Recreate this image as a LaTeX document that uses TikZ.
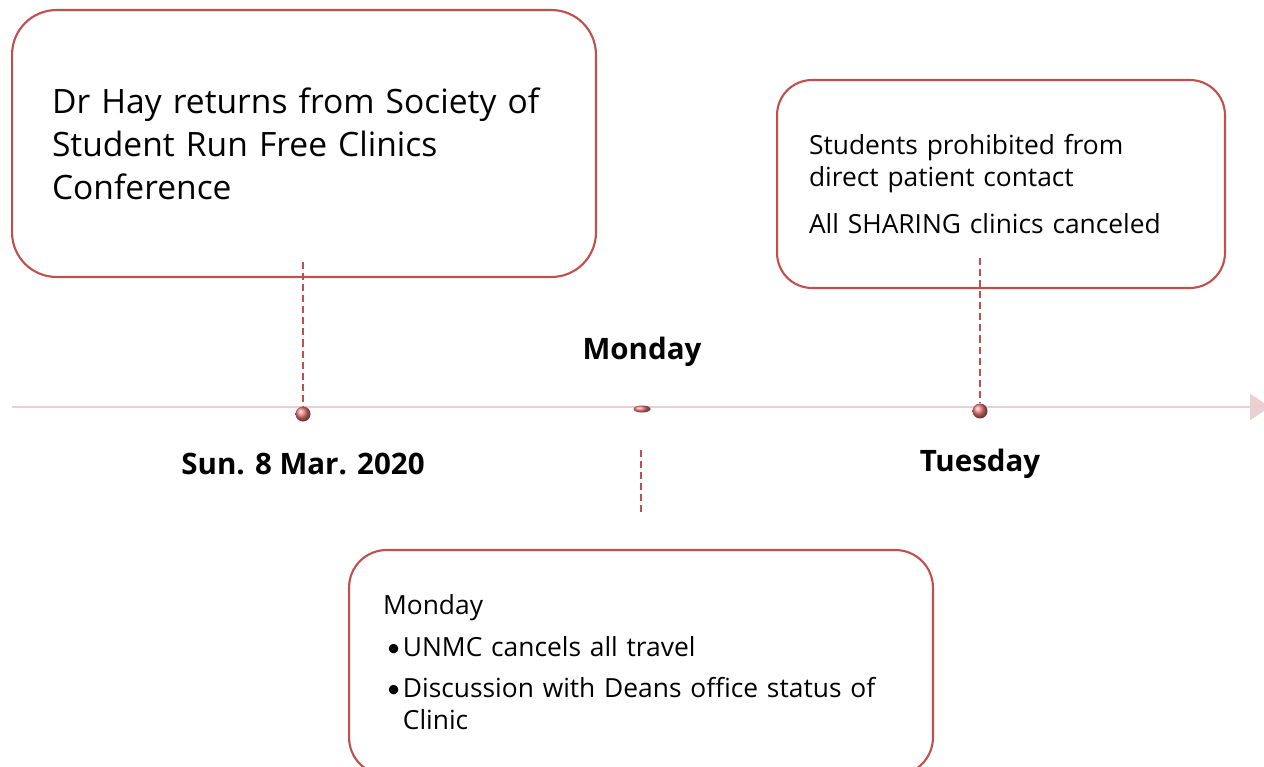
\documentclass[tikz,border=0pt]{standalone}
\usepackage{fontspec}
\setmainfont{Open Sans}
\newfontfamily\bulfont{Carlito}
\usetikzlibrary{arrows.meta,positioning,shapes.geometric}
\definecolor{boxred}{RGB}{192,80,77}
\definecolor{linepink}{RGB}{234,208,208}
\definecolor{ballred}{RGB}{236,118,118}
\tikzset{
  eventbox/.style={draw=boxred,line width=1.2pt,fill=white,align=left,
    inner ysep=0pt,anchor=center},
  bigtext/.style={font=\fontsize{19.1}{24.4}\selectfont},
  smalltext/.style={font=\fontsize{15}{18.6}\selectfont},
  datelab/.style={font=\fontsize{16.8}{20}\selectfont\bfseries,inner sep=0pt,
    anchor=base},
  stem/.style={draw=boxred,line width=1.1pt,dash pattern=on 4pt off 2.3pt},
  timeline/.style={draw=linepink,line width=1.7pt,
    -{Triangle[length=11.3pt,width=14.7pt]}},
  ball/.style={circle,inner sep=0pt,minimum size=0.3cm,shading=ball,
    ball color=ballred},
  flatball/.style={ellipse,inner sep=0pt,minimum width=0.34cm,
    minimum height=0.14cm,shading=ball,ball color=ballred}
}
\newcommand\bulitem[1]{\hspace*{2.3pt}\makebox[9pt][l]{\bulfont\textbullet}#1}

\begin{document}
\begin{tikzpicture}[x=0.02cm,y=-0.02cm]
  \useasboundingbox (0,0) rectangle (1264,767);
  \clip (0,0) rectangle (1264,767);

  % axis
  \coordinate (tlstart) at (12,407);
  \coordinate (tlend) at (1270,407);
  \draw[timeline] (tlstart) -- (tlend);

  % event boxes
  \node[eventbox,bigtext,rounded corners=0.89cm,inner xsep=0.8cm,
    text width=10.08cm,minimum height=5.34cm] (sunbox) at (304,143.5)
    {Dr Hay returns from Society of\\Student Run Free Clinics\\Conference};
  \node[eventbox,smalltext,rounded corners=0.7cm,inner xsep=0.64cm,
    text width=7.68cm,minimum height=4.16cm] (tuebox) at (1001,184)
    {Students prohibited from\\direct patient contact\\[8pt]All SHARING clinics canceled};
  \node[eventbox,smalltext,rounded corners=0.75cm,inner xsep=0.68cm,
    text width=10.32cm,minimum height=4.5cm] (monbox) at (641,662.5)
    {Monday\\[5pt]\bulitem{UNMC cancels all travel}\\[4.6pt]%
     \bulitem{Discussion with Deans office status of}\\\hspace*{11.3pt}Clinic};

  % markers on the axis
  \node[ball] (sun) at (303,414) {};
  \node[flatball] (mon) at (642,409) {};
  \node[ball] (tue) at (980,411) {};

  % stems
  \coordinate (suntail) at (303,262);
  \coordinate (tuetail) at (980,258);
  \coordinate (montop) at (641,450);
  \coordinate (monfoot) at (641,515);
  \draw[stem] (suntail) -- (sun);
  \draw[stem] (tuetail) -- (tue);
  \draw[stem] (montop) -- (monfoot);

  % day labels
  \node[datelab] (sunlab) at (303,474) {Sun. 8 Mar. 2020};
  \node[datelab] (monlab) at (642,359) {Monday};
  \node[datelab] (tuelab) at (980,471) {Tuesday};
\end{tikzpicture}
\end{document}
